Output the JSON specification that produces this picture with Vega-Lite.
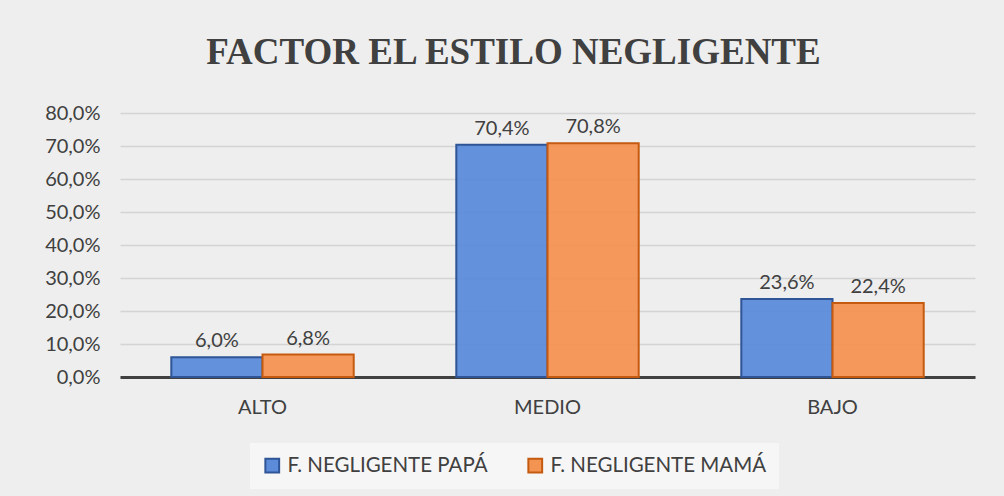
{
  "$schema": "https://vega.github.io/schema/vega-lite/v6.json",
  "width": 855,
  "height": 264,
  "autosize": {"type": "none"},
  "padding": {"left": 120, "top": 113, "right": 29, "bottom": 119},
  "background": "#eeeeee",
  "config": {
    "locale": {"number": {"decimal": ",", "thousands": ".", "grouping": [3], "currency": ["", " €"]}},
    "view": {"stroke": null},
    "font": "Lato"
  },
  "title": {
    "text": "FACTOR EL ESTILO NEGLIGENTE",
    "font": "Liberation Serif",
    "fontSize": 37,
    "fontWeight": "bold",
    "color": "#404040",
    "anchor": "middle",
    "frame": "group",
    "offset": 31,
    "dx": -34
  },
  "data": {
    "values": [
      {"nivel": "ALTO", "serie": "F. NEGLIGENTE PAPÁ", "valor": 0.060},
      {"nivel": "ALTO", "serie": "F. NEGLIGENTE MAMÁ", "valor": 0.068},
      {"nivel": "MEDIO", "serie": "F. NEGLIGENTE PAPÁ", "valor": 0.704},
      {"nivel": "MEDIO", "serie": "F. NEGLIGENTE MAMÁ", "valor": 0.708},
      {"nivel": "BAJO", "serie": "F. NEGLIGENTE PAPÁ", "valor": 0.236},
      {"nivel": "BAJO", "serie": "F. NEGLIGENTE MAMÁ", "valor": 0.224}
    ]
  },
  "encoding": {
    "x": {
      "field": "nivel",
      "type": "nominal",
      "sort": ["ALTO", "MEDIO", "BAJO"],
      "scale": {"paddingInner": 0.36, "paddingOuter": 0.18},
      "axis": {
        "title": null,
        "labelAngle": 0,
        "labelFontSize": 20,
        "labelColor": "#404040",
        "labelPadding": 20,
        "ticks": false,
        "domainColor": "#404040",
        "domainWidth": 3
      }
    },
    "xOffset": {"field": "serie", "type": "nominal", "sort": ["F. NEGLIGENTE PAPÁ", "F. NEGLIGENTE MAMÁ"]},
    "y": {
      "field": "valor",
      "type": "quantitative",
      "scale": {"domain": [0, 0.8], "nice": false},
      "axis": {
        "title": null,
        "format": ".1%",
        "values": [0, 0.1, 0.2, 0.3, 0.4, 0.5, 0.6, 0.7, 0.8],
        "labelOverlap": false,
        "labelFontSize": 20,
        "labelColor": "#404040",
        "labelPadding": 20,
        "ticks": false,
        "domain": false,
        "gridColor": "#d4d4d4",
        "gridWidth": 1.5
      }
    }
  },
  "layer": [
    {
      "mark": {"type": "bar", "strokeWidth": 2, "fillOpacity": 0.95},
      "encoding": {
        "color": {
          "field": "serie",
          "type": "nominal",
          "sort": ["F. NEGLIGENTE PAPÁ", "F. NEGLIGENTE MAMÁ"],
          "scale": {"domain": ["F. NEGLIGENTE PAPÁ", "F. NEGLIGENTE MAMÁ"], "range": ["#5b8bd9", "#f39452"]},
          "legend": {
            "title": null,
            "orient": "none",
            "direction": "horizontal",
            "legendX": 130,
            "legendY": 330,
            "padding": 12,
            "fillColor": "#f6f6f6",
            "symbolType": "square",
            "symbolSize": 190,
            "symbolStrokeWidth": 2,
            "labelFontSize": 20.5,
            "labelLimit": 300,
            "labelColor": "#404040",
            "labelOffset": 5,
            "columnPadding": 36
          }
        },
        "stroke": {
          "field": "serie",
          "type": "nominal",
          "scale": {"domain": ["F. NEGLIGENTE PAPÁ", "F. NEGLIGENTE MAMÁ"], "range": ["#2f5597", "#c55a11"]},
          "legend": null
        }
      }
    },
    {
      "mark": {"type": "text", "dy": -16, "fontSize": 20, "color": "#404040"},
      "encoding": {
        "text": {"field": "valor", "type": "quantitative", "format": ".1%"}
      }
    }
  ]
}
